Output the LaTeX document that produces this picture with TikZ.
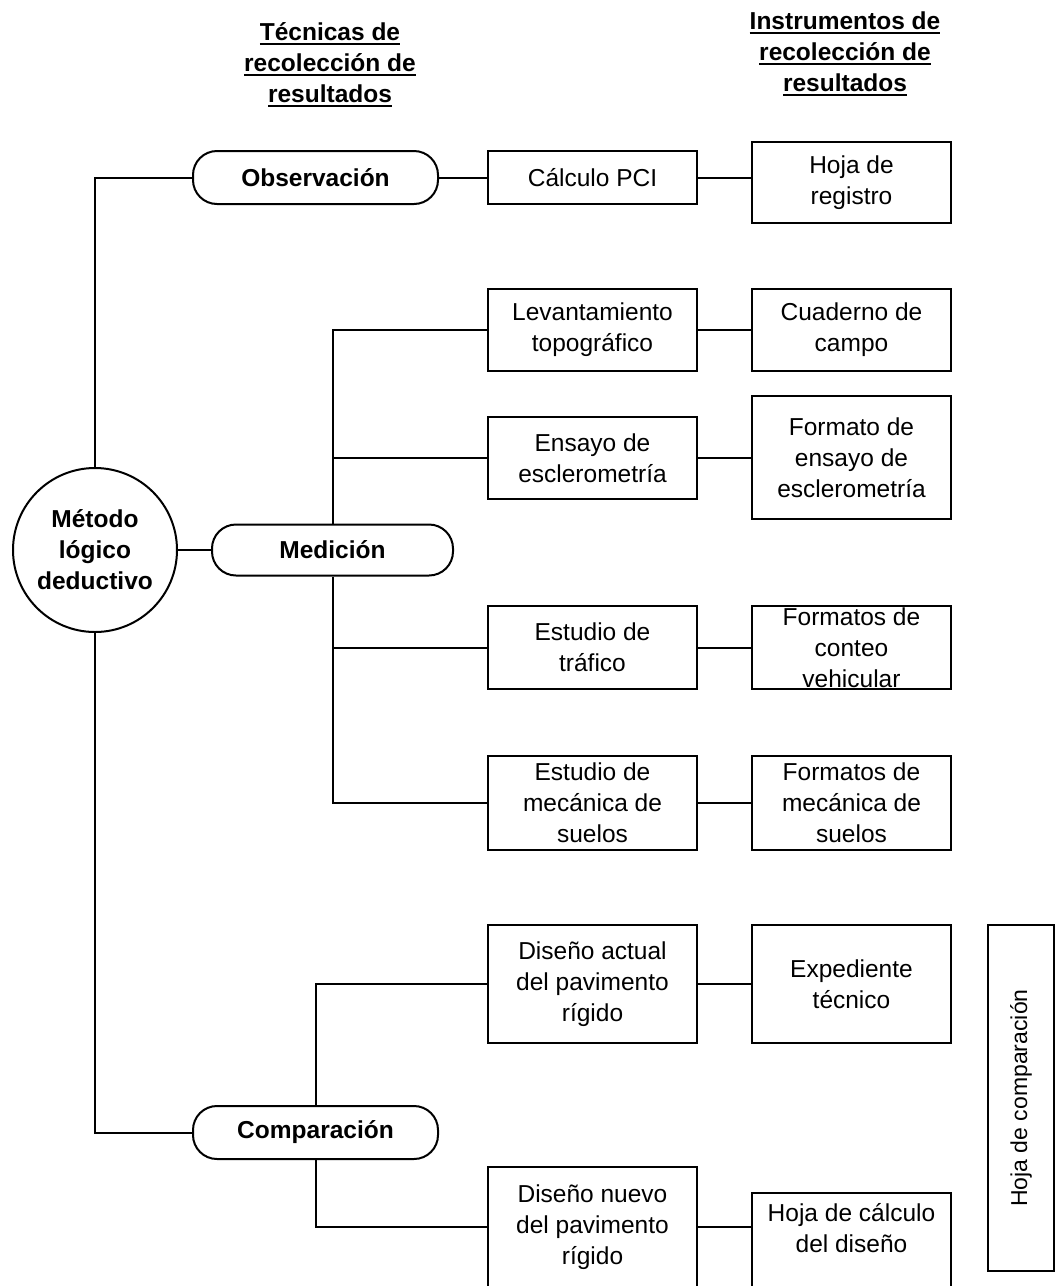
\documentclass[tikz,border=0pt]{standalone}
\usepackage{fontspec}
\setmainfont{Liberation Sans}
% bold underline drawn as a rule under the word
\newcommand{\myul}[1]{\setbox0=\hbox{#1}\rlap{\rule[-4.5pt]{\wd0}{2.2pt}}\box0}
\begin{document}
\begin{tikzpicture}[x=1pt,y=-1pt,
  every node/.style={font=\fontsize{24.5}{31}\selectfont},
  link/.style={line width=2pt},
  box/.style={draw,line width=2pt,inner sep=0pt,align=center,minimum width=209pt},
  instr/.style={draw,line width=2pt,inner sep=0pt,align=center,minimum width=199pt},
  pill/.style={draw,line width=2pt,rounded corners=24pt,inner sep=0pt,
    minimum width=245pt,minimum height=53pt,font=\fontsize{24.5}{31}\selectfont\bfseries},
  head/.style={align=center,inner sep=0pt,font=\fontsize{24.5}{31}\selectfont\bfseries}]
\clip (0,0) rectangle (1056,1286);

% column headers
\node[head] (h1) at (330,65) {\myul{Técnicas de}\\\myul{recolección de}\\\myul{resultados}};
\node[head] (h2) at (845,54) {\myul{Instrumentos de}\\\myul{recolección de}\\\myul{resultados}};

% root
\node[circle,draw,line width=2pt,minimum size=164pt,inner sep=0pt,align=center,
  font=\fontsize{24.5}{31}\selectfont\bfseries] (met) at (95,550) {Método\\lógico\\deductivo};

% techniques
\node[pill] (obs) at (315.5,177.5) {Observación};
\node[pill,minimum width=241pt,minimum height=51pt] (med) at (332.5,550) {Medición};
\node[pill] (comp) at (315.5,1132.5) {Comparación};

% procedures
\node[box,minimum height=53pt] (pci) at (592.5,177.5) {Cálculo PCI};
\node[box,minimum height=82pt] (lev) at (592.5,330) {Levantamiento\\topográfico};
\node[box,minimum height=82pt] (ens) at (592.5,458) {Ensayo de\\esclerometría};
\node[box,minimum height=83pt] (tra) at (592.5,647.5) {Estudio de\\tráfico};
\node[box,minimum height=94pt] (mec) at (592.5,803) {Estudio de\\mecánica de\\suelos};
\node[box,minimum height=118pt] (dact) at (592.5,984) {Diseño actual\\del pavimento\\rígido};
\node[box,minimum height=120pt] (dnue) at (592.5,1227) {Diseño nuevo\\del pavimento\\rígido};

% instruments
\node[instr,minimum height=81pt] (reg) at (851.5,182.5) {Hoja de\\registro};
\node[instr,minimum height=82pt] (cua) at (851.5,330) {Cuaderno de\\campo};
\node[instr,minimum height=123pt] (fes) at (851.5,457.5) {Formato de\\ensayo de\\esclerometría};
\node[instr,minimum height=83pt] (fco) at (851.5,647.5) {Formatos de\\conteo\\vehicular};
\node[instr,minimum height=94pt] (fme) at (851.5,803) {Formatos de\\mecánica de\\suelos};
\node[instr,minimum height=118pt] (exp) at (851.5,984) {Expediente\\técnico};
\node[instr,minimum height=107pt] (hcb) at (851.5,1246.5) {};
\node[align=center,inner sep=0pt] (hc) at (851.5,1228) {Hoja de cálculo\\del diseño};

% comparison sheet
\node[draw,line width=2pt,rotate=90,inner sep=0pt,minimum width=346pt,minimum height=66pt,
  font=\fontsize{23}{28}\selectfont] (hcomp) at (1021,1098) {Hoja de comparación};

% connectors
\draw[link] (met.north) |- (obs.west);
\draw[link] (met.south) |- (comp.west);
\draw[link] (met.east) -- (med.west);
\draw[link] (obs.east) -- (pci.west);
\draw[link] (pci.east) -- (pci.east -| reg.west);
\draw[link] (med.north) |- (lev.west);
\draw[link] (med.north |- ens.west) -- (ens.west);
\draw[link] (med.south) |- (mec.west);
\draw[link] (med.south |- tra.west) -- (tra.west);
\draw[link] (lev.east) -- (cua.west);
\draw[link] (ens.east) -- (ens.east -| fes.west);
\draw[link] (tra.east) -- (fco.west);
\draw[link] (mec.east) -- (fme.west);
\draw[link] (comp.north) |- (dact.west);
\draw[link] (comp.south) |- (dnue.west);
\draw[link] (dact.east) -- (exp.west);
\draw[link] (dnue.east) -- (dnue.east -| hcb.west);
\end{tikzpicture}
\end{document}
